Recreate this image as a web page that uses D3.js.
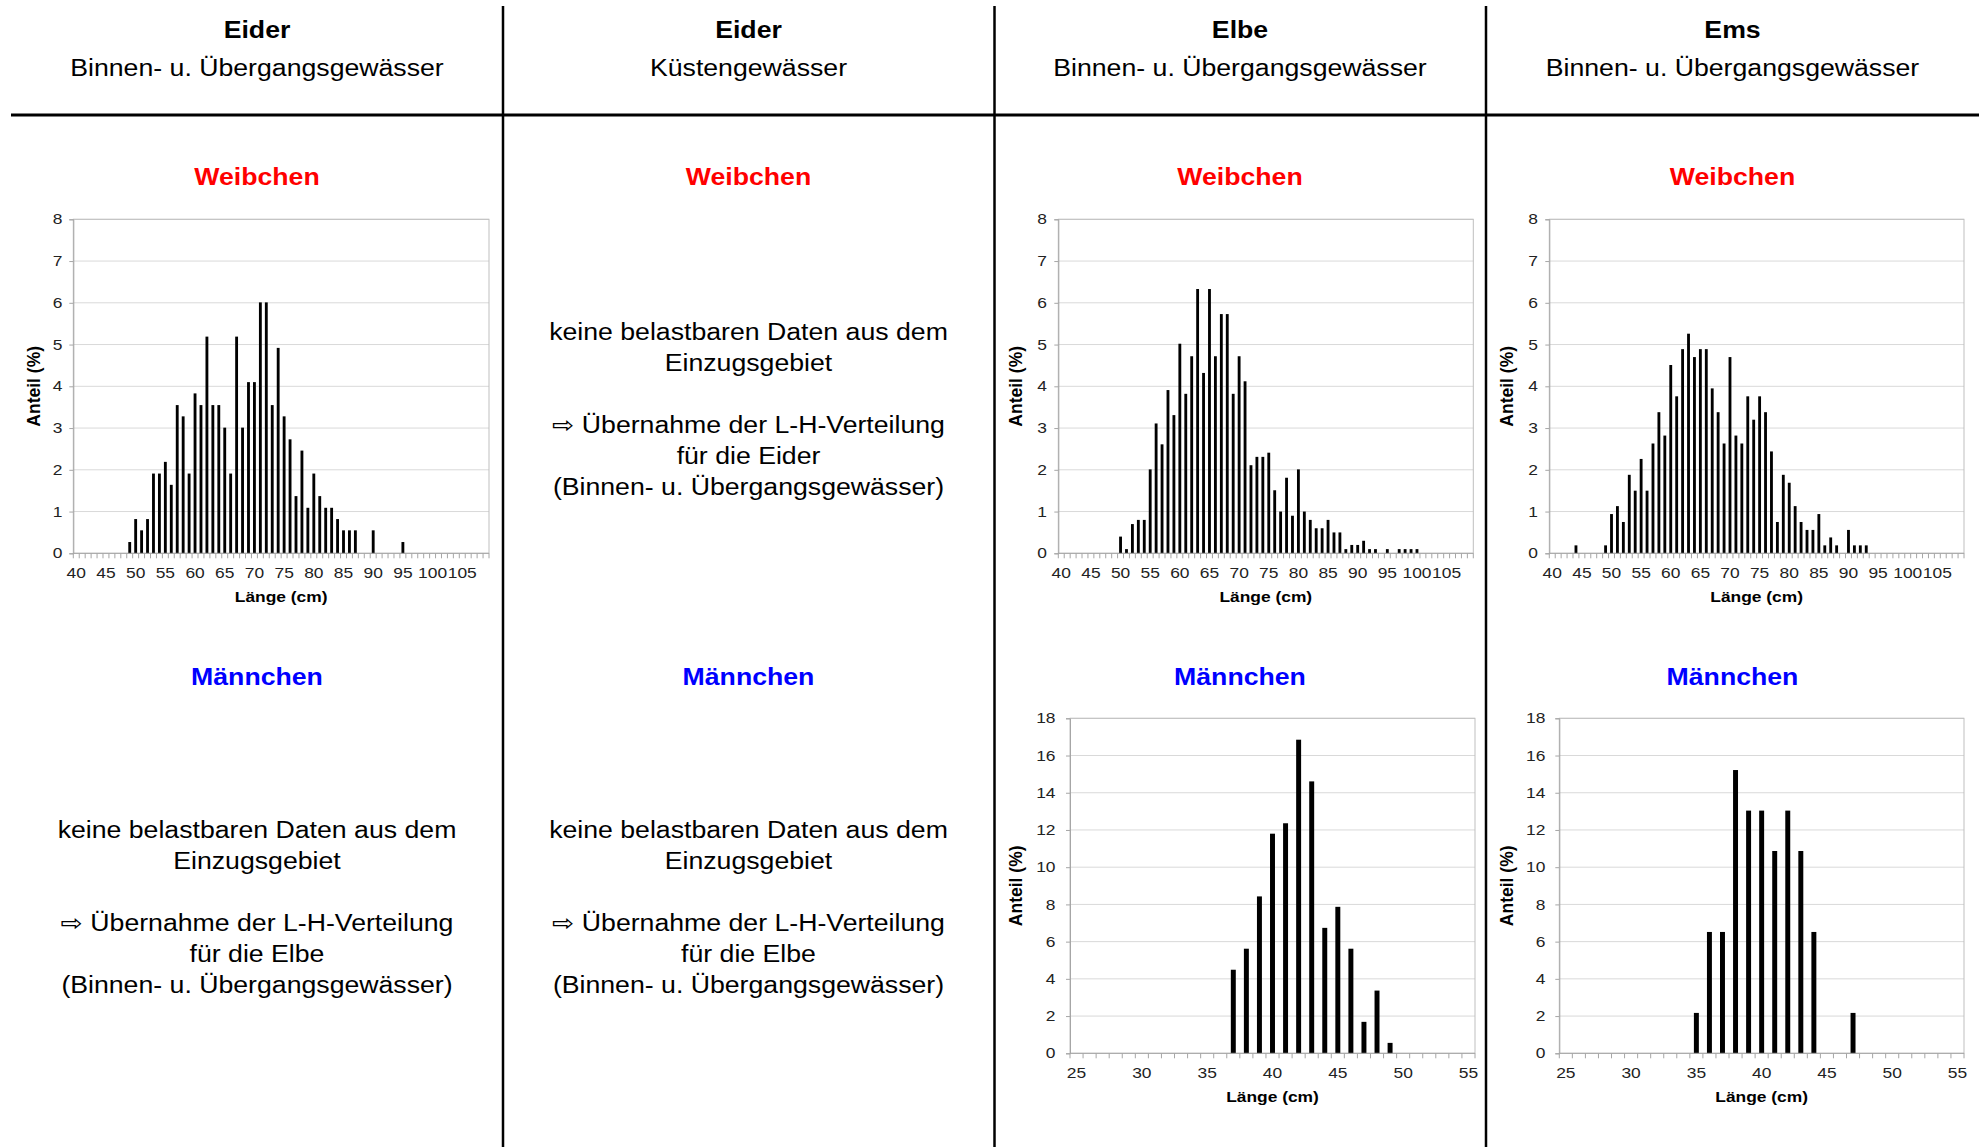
<!DOCTYPE html>
<html>
<head>
<meta charset="utf-8">
<script src="https://cdn.jsdelivr.net/npm/d3@7"></script>
<style>
  body { margin: 0; background: #fff; }
  svg { display: block; }
  text { font-family: "Liberation Sans", Arial, "DejaVu Sans", sans-serif; }
</style>
</head>
<body>
<svg id="chart" width="1979" height="1147"></svg>
<script>
// ---- length classes (cm) and tick labels ----
const femaleClasses = d3.range(40, 110);          // 40 … 109 cm
const femaleTickLabels = [40, 45, 50, 55, 60, 65, 70, 75, 80, 85, 90, 95, 100, 105];
const maleClasses = d3.range(25, 56);             // 25 … 55 cm
const maleTickLabels = [25, 30, 35, 40, 45, 50, 55];
const femaleShareTicks = [0, 1, 2, 3, 4, 5, 6, 7, 8];
const maleShareTicks = [0, 2, 4, 6, 8, 10, 12, 14, 16, 18];

// ---- Eider, Binnen- u. Übergangsgewässer, Weibchen (Anteil %) ----
const eiderFemaleLength = [49, 50, 51, 52, 53, 54, 55, 56, 57, 58, 59, 60, 61, 62, 63, 64, 65, 66, 67, 68, 69, 70,
  71, 72, 73, 74, 75, 76, 77, 78, 79, 80, 81, 82, 83, 84, 85, 86, 87, 90, 95];
const eiderFemaleShare = [0.27, 0.82, 0.55, 0.82, 1.91, 1.91, 2.19, 1.64, 3.55, 3.28, 1.91, 3.83, 3.55, 5.19, 3.55, 3.55,
  3.01, 1.91, 5.19, 3.01, 4.10, 4.10, 6.01, 6.01, 3.55, 4.92, 3.28, 2.73, 1.37, 2.46, 1.09, 1.91, 1.37, 1.09, 1.09,
  0.82, 0.55, 0.55, 0.55, 0.55, 0.27];

// ---- Elbe, Binnen- u. Übergangsgewässer, Weibchen ----
const elbeFemaleLength = [50, 51, 52, 53, 54, 55, 56, 57, 58, 59, 60, 61, 62, 63, 64, 65, 66, 67, 68, 69, 70, 71, 72,
  73, 74, 75, 76, 77, 78, 79, 80, 81, 82, 83, 84, 85, 86, 87, 88, 89, 90, 91, 92, 93, 95, 97, 98, 99, 100];
const elbeFemaleShare = [0.40, 0.10, 0.70, 0.80, 0.80, 2.01, 3.11, 2.61, 3.91, 3.31, 5.02, 3.82, 4.72, 6.33, 4.32, 6.33,
  4.72, 5.73, 5.73, 3.82, 4.72, 4.12, 2.11, 2.31, 2.31, 2.41, 1.51, 1.00, 1.81, 0.90, 2.01, 1.00, 0.80, 0.60, 0.60,
  0.80, 0.50, 0.50, 0.10, 0.20, 0.20, 0.30, 0.10, 0.10, 0.10, 0.10, 0.10, 0.10, 0.10];

// ---- Ems, Binnen- u. Übergangsgewässer, Weibchen ----
const emsFemaleLength = [44, 49, 50, 51, 52, 53, 54, 55, 56, 57, 58, 59, 60, 61, 62, 63, 64, 65, 66, 67, 68, 69, 70,
  71, 72, 73, 74, 75, 76, 77, 78, 79, 80, 81, 82, 83, 84, 85, 86, 87, 88, 90, 91, 92, 93];
const emsFemaleShare = [0.19, 0.19, 0.94, 1.13, 0.75, 1.88, 1.50, 2.26, 1.50, 2.63, 3.38, 2.82, 4.51, 3.76, 4.89, 5.26,
  4.70, 4.89, 4.89, 3.95, 3.38, 2.63, 4.70, 2.82, 2.63, 3.76, 3.20, 3.76, 3.38, 2.44, 0.75, 1.88, 1.69, 1.13, 0.75,
  0.56, 0.56, 0.94, 0.19, 0.38, 0.19, 0.56, 0.19, 0.19, 0.19];

// ---- Elbe, Männchen ----
const elbeMaleLength = [37, 38, 39, 40, 41, 42, 43, 44, 45, 46, 47, 48, 49];
const elbeMaleShare = [4.49, 5.62, 8.43, 11.80, 12.36, 16.85, 14.61, 6.74, 7.87, 5.62, 1.69, 3.37, 0.56];

// ---- Ems, Männchen ----
const emsMaleLength = [35, 36, 37, 38, 39, 40, 41, 42, 43, 44, 47];
const emsMaleShare = [2.17, 6.52, 6.52, 15.22, 13.04, 13.04, 10.87, 13.04, 10.87, 6.52, 2.17];

// ---- column headings and notes ----
const columnRivers = ["Eider", "Eider", "Elbe", "Ems"];
const columnWaters = ["Binnen- u. Übergangsgewässer", "Küstengewässer", "Binnen- u. Übergangsgewässer", "Binnen- u. Übergangsgewässer"];
const femaleLabel = "Weibchen";
const maleLabel = "Männchen";
const noteFemaleEider = ["keine belastbaren Daten aus dem", "Einzugsgebiet", "", "⇨ Übernahme der L-H-Verteilung",
  "für die Eider", "(Binnen- u. Übergangsgewässer)"];
const noteMaleElbe = ["keine belastbaren Daten aus dem", "Einzugsgebiet", "", "⇨ Übernahme der L-H-Verteilung",
  "für die Elbe", "(Binnen- u. Übergangsgewässer)"];

const svg = d3.select("#chart");
const SX = 1.16;                       // horizontal glyph stretch for page text
const TSX = 1.2;                       // horizontal glyph stretch for axis text
const colCenters = [257, 748.5, 1240, 1732.5];

function label(g, x, y, str, o = {}) {
  return g.append("text")
    .attr("transform", `translate(${x},${y}) scale(${o.sx ?? SX},1)`)
    .attr("text-anchor", o.anchor || "middle")
    .attr("font-size", o.size || 23)
    .attr("font-weight", o.bold ? "bold" : "normal")
    .attr("fill", o.fill || "#000")
    .text(str);
}

// ---- table grid ----
svg.append("line").attr("x1", 11).attr("x2", 1979).attr("y1", 115).attr("y2", 115)
  .attr("stroke", "#000").attr("stroke-width", 3);
[503, 994.5, 1486].forEach(x => {
  svg.append("line").attr("x1", x).attr("x2", x).attr("y1", 6).attr("y2", 1147)
    .attr("stroke", "#000").attr("stroke-width", 2.5);
});

// ---- headings ----
columnRivers.forEach((r, i) => {
  label(svg, colCenters[i], 38, r, { bold: true });
  label(svg, colCenters[i], 76, columnWaters[i]);
  label(svg, colCenters[i], 185, femaleLabel, { bold: true, fill: "#ff0000" });
  label(svg, colCenters[i], 685, maleLabel, { bold: true, fill: "#0000ff" });
});

// ---- notes where no data are available ----
function note(cx, y0, lines) {
  lines.forEach((t, i) => { if (t) label(svg, cx, y0 + 31 * i, t); });
}
note(colCenters[1], 340, noteFemaleEider);
note(colCenters[0], 838, noteMaleElbe);
note(colCenters[1], 838, noteMaleElbe);

// ---- histogram panel ----
function histogram(p) {
  const g = svg.append("g");
  const x = d3.scaleBand().domain(p.classes).range([p.left, p.right]);
  const y = d3.scaleLinear().domain([0, p.yMax]).range([p.bottom, p.top]);

  // grid lines
  g.selectAll("line.grid").data(p.yTicks.filter(v => v > 0)).join("line")
    .attr("x1", p.left).attr("x2", p.right)
    .attr("y1", d => y(d)).attr("y2", d => y(d))
    .attr("stroke", "#d9d9d9").attr("stroke-width", 1);
  // plot frame
  g.append("rect").attr("x", p.left).attr("y", p.top)
    .attr("width", p.right - p.left).attr("height", p.bottom - p.top)
    .attr("fill", "none").attr("stroke", "#bfbfbf").attr("stroke-width", 1);

  // bars
  const bw = x.bandwidth() * p.barFrac;
  g.selectAll("rect.bar").data(p.len.map((l, i) => ({ l, v: p.share[i] }))).join("rect")
    .attr("x", d => x(d.l) + (x.bandwidth() - bw) / 2)
    .attr("width", bw)
    .attr("y", d => y(d.v))
    .attr("height", d => y(0) - y(d.v))
    .attr("fill", "#000");

  // y axis
  const ya = g.append("g").attr("transform", `translate(${p.left},0)`)
    .call(d3.axisLeft(y).tickValues(p.yTicks).tickSize(4).tickPadding(p.yGap));
  ya.select(".domain").attr("stroke", "#a6a6a6");
  ya.selectAll(".tick line").attr("stroke", "#a6a6a6");
  ya.selectAll(".tick text").attr("font-size", 14.5).attr("fill", "#222")
    .attr("font-family", "Liberation Sans, Arial, sans-serif")
    .attr("x", -(4 + p.yGap) / TSX).attr("transform", `scale(${TSX},1)`);

  // x axis: labels under class centres, ticks on class boundaries
  const xa = g.append("g").attr("transform", `translate(0,${p.bottom})`)
    .call(d3.axisBottom(x).tickValues(p.ticks).tickSize(0).tickPadding(14));
  xa.select(".domain").remove();
  xa.selectAll(".tick text").attr("font-size", 14.5).attr("fill", "#222")
    .attr("font-family", "Liberation Sans, Arial, sans-serif")
    .attr("transform", `scale(${TSX},1)`);
  g.append("line").attr("x1", p.left).attr("x2", p.right)
    .attr("y1", p.bottom).attr("y2", p.bottom).attr("stroke", "#a6a6a6");
  g.selectAll("line.minor").data(p.classes.map(c => x(c)).concat([p.right])).join("line")
    .attr("x1", d => d).attr("x2", d => d)
    .attr("y1", p.bottom).attr("y2", p.bottom + 5)
    .attr("stroke", "#a6a6a6");

  // axis titles
  label(g, (p.left + p.right) / 2, p.bottom + 49, "Länge (cm)", { bold: true, size: 14.5, sx: 1.2 });
  g.append("text")
    .attr("transform", `translate(${p.titleX},${(p.top + p.bottom) / 2}) rotate(-90)`)
    .attr("text-anchor", "middle").attr("dy", "0.35em")
    .attr("font-size", 17.5).attr("font-weight", "bold").attr("fill", "#000")
    .text("Anteil (%)");
}

const fTop = 219.3, fBottom = 553.3, mTop = 718.3, mBottom = 1053.3;
histogram({ classes: femaleClasses, ticks: femaleTickLabels, yMax: 8, yTicks: femaleShareTicks,
  len: eiderFemaleLength, share: eiderFemaleShare, left: 73.3, right: 489, top: fTop, bottom: fBottom,
  barFrac: 0.48, titleX: 34, yGap: 7 });
histogram({ classes: femaleClasses, ticks: femaleTickLabels, yMax: 8, yTicks: femaleShareTicks,
  len: elbeFemaleLength, share: elbeFemaleShare, left: 1058.3, right: 1473.3, top: fTop, bottom: fBottom,
  barFrac: 0.48, titleX: 1016, yGap: 7.5 });
histogram({ classes: femaleClasses, ticks: femaleTickLabels, yMax: 8, yTicks: femaleShareTicks,
  len: emsFemaleLength, share: emsFemaleShare, left: 1549.3, right: 1964, top: fTop, bottom: fBottom,
  barFrac: 0.48, titleX: 1507, yGap: 7.5 });
histogram({ classes: maleClasses, ticks: maleTickLabels, yMax: 18, yTicks: maleShareTicks,
  len: elbeMaleLength, share: elbeMaleShare, left: 1070, right: 1475, top: mTop, bottom: mBottom,
  barFrac: 0.38, titleX: 1016, yGap: 10.5 });
histogram({ classes: maleClasses, ticks: maleTickLabels, yMax: 18, yTicks: maleShareTicks,
  len: emsMaleLength, share: emsMaleShare, left: 1559.3, right: 1964, top: mTop, bottom: mBottom,
  barFrac: 0.38, titleX: 1507, yGap: 10 });
</script>
</body>
</html>
